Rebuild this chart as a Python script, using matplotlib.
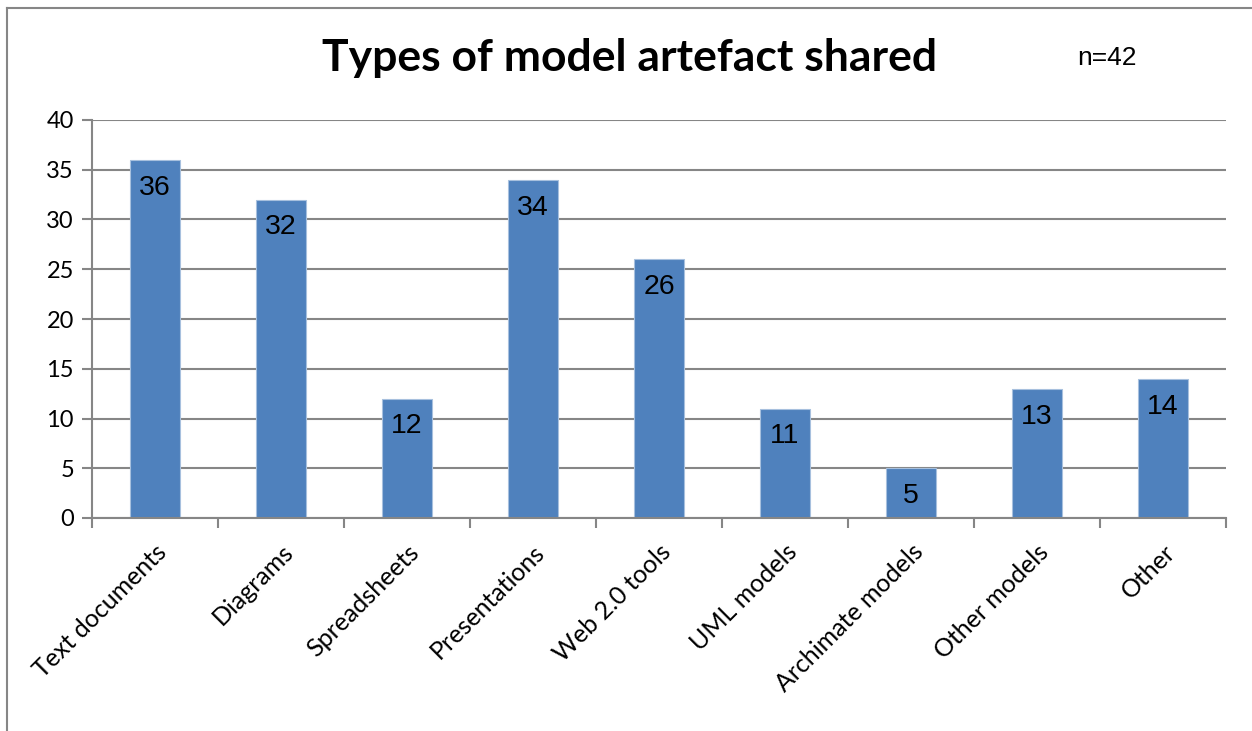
import matplotlib.pyplot as plt
from matplotlib.lines import Line2D

categories = ["Text documents", "Diagrams", "Spreadsheets", "Presentations", "Web 2.0 tools",
              "UML models", "Archimate models", "Other models", "Other"]
counts = [36, 32, 12, 34, 26, 11, 5, 13, 14]
y_ticks = [0, 5, 10, 15, 20, 25, 30, 35, 40]

BAR = "#4F81BD"
GRID = "#868686"
LABEL_FONT = ["Lato", "DejaVu Sans"]
VALUE_FONT = ["Liberation Sans", "DejaVu Sans"]

fig = plt.figure(figsize=(12.52, 7.31), dpi=100)
ax = fig.add_axes([92 / 1252, 1 - 518 / 731, (1226 - 92) / 1252, (518 - 120) / 731])

x = list(range(len(categories)))
bars = ax.bar(x, counts, width=0.4, color=BAR, edgecolor="#A7C0DE", linewidth=0.8, zorder=3)

for b, v in zip(bars, counts):
    ax.text(b.get_x() + b.get_width() / 2, v - 2.8, str(v), ha="center", va="center",
            fontsize=20.5, family=VALUE_FONT, color="black", zorder=4)

ax.set_xlim(-0.5, len(categories) - 0.5)
ax.set_ylim(0, 40)
ax.set_yticks(y_ticks)
ax.set_yticklabels([str(t) for t in y_ticks], family=LABEL_FONT, fontsize=17)
ax.yaxis.grid(True, color=GRID, linewidth=1.5, zorder=0)
ax.tick_params(axis="y", length=7, width=1.5, color=GRID, pad=6)

# category boundary ticks on the x axis, labels at bar centres
ax.set_xticks([i - 0.5 for i in range(len(categories) + 1)])
ax.set_xticklabels([])
ax.set_xticks(x, minor=True)
ax.set_xticklabels(categories, minor=True, rotation=45, ha="right", rotation_mode="anchor",
                   family=LABEL_FONT, fontsize=18)
ax.tick_params(axis="x", which="major", length=7, width=1.5, color=GRID)
ax.tick_params(axis="x", which="minor", length=0, pad=16)

for side in ["top", "right"]:
    ax.spines[side].set_visible(False)
for side in ["left", "bottom"]:
    ax.spines[side].set_color(GRID)
    ax.spines[side].set_linewidth(1.5)
    ax.spines[side].set_zorder(5)

fig.text(630 / 1252, 1 - 58 / 731, "Types of model artefact shared", ha="center", va="center",
         fontsize=32, fontweight="bold", family=LABEL_FONT)
fig.text(1107 / 1252, 1 - 58 / 731, "n=42", ha="center", va="center",
         fontsize=19, family=VALUE_FONT)

# chart frame (left and top edges)
fig.add_artist(Line2D([7 / 1252, 7 / 1252], [0, 1 - 8 / 731], color=GRID, linewidth=1.5,
                      transform=fig.transFigure))
fig.add_artist(Line2D([7 / 1252, 1], [1 - 8 / 731, 1 - 8 / 731], color=GRID, linewidth=1.5,
                      transform=fig.transFigure))

fig.savefig("out.png", dpi=100, facecolor="white")
